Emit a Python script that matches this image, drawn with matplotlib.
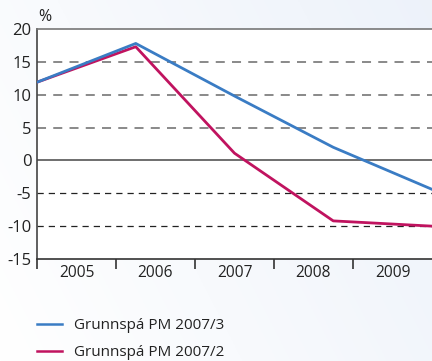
import matplotlib
matplotlib.use("Agg")
import matplotlib.pyplot as plt
import numpy as np

years = ["2005", "2006", "2007", "2008", "2009"]
blue_label = "Grunnspá PM 2007/3"
red_label = "Grunnspá PM 2007/2"
blue_values = [11.9, 17.8, 9.8, 2.0, -4.4]
red_values = [11.9, 17.3, 1.1, -9.2, -10.0]
y_ticks = [-15, -10, -5, 0, 5, 10, 15, 20]

plt.rcParams['font.family'] = ['Open Sans', 'DejaVu Sans']

W, H = 432, 361
fig = plt.figure(figsize=(W / 100, H / 100), dpi=100)

# soft background gradient
bg = fig.add_axes([0, 0, 1, 1], zorder=-10)
gx = np.linspace(0, 1, 200)
gy = np.linspace(0, 1, 200)
GX, GY = np.meshgrid(gx, gy)
t = np.clip(0.7 * GX + 0.3 * (1 - GY), 0, 1)
c0 = np.array([1.0, 1.0, 1.0])
c1 = np.array([0.93, 0.95, 0.98])
img = c0[None, None, :] * (1 - t[..., None]) + c1[None, None, :] * t[..., None]
bg.imshow(img, aspect='auto', extent=[0, 1, 0, 1], origin='upper')
bg.axis('off')

left, right = 37 / W, 1.0
top, bottom = 29 / H, 259 / H
ax = fig.add_axes([left, 1 - bottom, right - left, bottom - top])
ax.set_facecolor('white')

x = np.arange(len(blue_values))
blue = '#3a7cc4'
red = '#c0135f'
ax.plot(x, blue_values, color=blue, lw=2.0, label=blue_label, zorder=4, solid_joinstyle='round')
ax.plot(x, red_values, color=red, lw=2.0, label=red_label, zorder=3, solid_joinstyle='round')

ax.set_xlim(0, len(blue_values) - 1)
ax.set_ylim(-15, 20)
ax.set_yticks(y_ticks)
ax.set_yticklabels([str(v) for v in y_ticks], fontsize=12, color='#222222')
ax.tick_params(axis='y', length=0, pad=4)

# x: tick marks at boundaries, year labels centred between them
n = len(years)
span = len(blue_values) - 1
bounds = np.linspace(0, span, n + 1)
ax.set_xticks(bounds[:-1])
ax.set_xticklabels([])
ax.tick_params(axis='x', which='major', direction='out', length=7, width=1.2, color='#333333')
ax.set_xticks((bounds[:-1] + bounds[1:]) / 2, minor=True)
ax.set_xticklabels(years, minor=True, fontsize=11.2, color='#222222')
ax.tick_params(axis='x', which='minor', length=0, pad=4)

for v in y_ticks:
    if v in (-15, 20):
        continue
    if v == 0:
        ax.axhline(v, color='#555555', lw=1.2, zorder=1)
    elif v > 0:
        ax.axhline(v, color='#808080', lw=1.3, ls=(0, (5, 4)), zorder=1)
    else:
        ax.axhline(v, color='#222222', lw=0.9, ls=(0, (5, 4)), zorder=1)

ax.spines['right'].set_visible(False)
ax.spines['top'].set_color('#777777')
ax.spines['top'].set_linewidth(1.2)
ax.spines['left'].set_color('#444444')
ax.spines['left'].set_linewidth(1.2)
ax.spines['bottom'].set_color('#333333')
ax.spines['bottom'].set_linewidth(1.2)

fig.text(38 / W, 1 - 17 / H, '%', fontsize=11.5, color='#222222', va='center', ha='left')

handles, labels = ax.get_legend_handles_labels()
leg = fig.legend(handles, labels, loc='upper left', bbox_to_anchor=(37 / W, 1 - 318 / H),
                 frameon=False, fontsize=11, handlelength=1.65, handletextpad=0.8,
                 labelspacing=0.8, borderaxespad=0, borderpad=0)
for t_ in leg.get_texts():
    t_.set_color('#222222')
for h in leg.get_lines():
    h.set_linewidth(1.8)

fig.savefig('out.png', dpi=100)
